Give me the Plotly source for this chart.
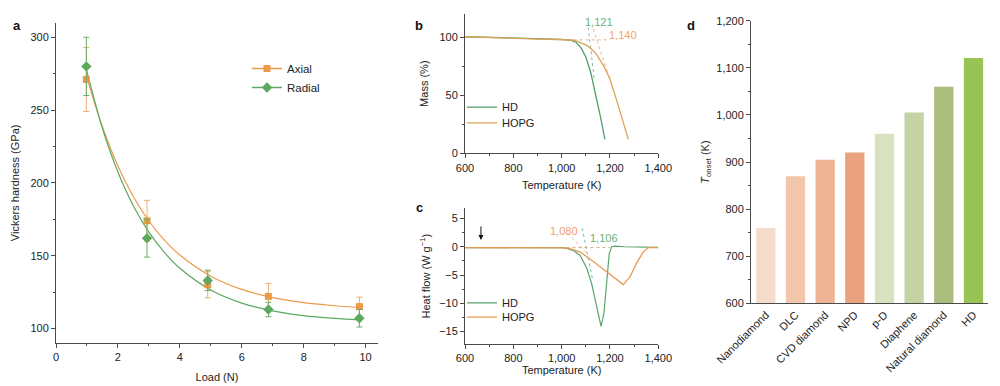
import plotly.graph_objects as go

FONT = "Liberation Sans, Arial, sans-serif"
ORANGE = "#EC9A48"
GREEN = "#5BA85E"
AX_COL = "#4a4a4a"

# ---------------- Panel a: Vickers hardness ----------------
load = [0.98, 2.94, 4.9, 6.86, 9.8]
axial = [271, 174, 130, 122, 115]
axial_err = [22, 14, 9, 9, 6.5]
radial = [280, 162, 133, 113, 107]
radial_err = [20, 13, 7, 5, 6]
fit_load = [0.98, 1.5, 2, 2.5, 3, 3.5, 4, 5, 6, 7, 8, 9, 9.8]
axial_fit = [273.7, 238.4, 211.6, 190.5, 173.8, 160.7, 150.4, 135.9, 126.8, 121.2, 117.7, 115.6, 114.4]
radial_fit = [278.1, 237.5, 207.4, 184.1, 166.1, 152.2, 141.3, 126.4, 117.4, 112.1, 108.8, 106.9, 105.9]

# ---------------- Panel b: TGA ----------------
tb_hd = [600, 700, 800, 900, 1000, 1040, 1060, 1080, 1100, 1120, 1140, 1160, 1179]
mass_hd = [100.4, 99.8, 99.2, 98.7, 98.2, 97.2, 95.5, 91.0, 83.0, 70.0, 52.0, 32.0, 12.0]
tb_hopg = [600, 700, 800, 900, 1000, 1040, 1060, 1080, 1100, 1117, 1140, 1172, 1200, 1227, 1250, 1276]
mass_hopg = [100.4, 99.8, 99.2, 98.7, 98.2, 97.6, 96.8, 95.4, 93.4, 91.0, 86.5, 76.0, 64.0, 46.0, 30.0, 12.0]
tb_base = [1000, 1200]
mass_base = [97.7, 97.7]
tb_tan_hd = [1110, 1135]
mass_tan_hd = [108.5, 64.0]
tb_tan_hopg = [1131, 1200]
mass_tan_hopg = [107.0, 63.0]
onset_b = ["1,121", "1,140"]

# ---------------- Panel c: DSC ----------------
tc_hd = [600, 700, 800, 900, 1000, 1021, 1050, 1076, 1104, 1124, 1138, 1152, 1163, 1175, 1186, 1197, 1207, 1221, 1260, 1300, 1350, 1400]
hf_hd = [-0.15, -0.15, -0.15, -0.15, -0.15, -0.3, -0.7, -1.5, -3.8, -6.5, -9.4, -12.3, -14.1, -11.8, -5.9, -1.2, 0.0, 0.1, 0.0, -0.05, -0.1, -0.1]
tc_hopg = [600, 800, 1000, 1030, 1076, 1131, 1186, 1228, 1255, 1283, 1310, 1338, 1359, 1400]
hf_hopg = [-0.15, -0.15, -0.2, -0.3, -0.9, -2.6, -4.4, -5.9, -6.7, -5.3, -2.9, -0.9, -0.15, -0.15]
tc_base = [1020, 1200]
hf_base = [-0.15, -0.15]
tc_tan_hd = [1085, 1128]
hf_tan_hd = [3.3, -5.8]
tc_tan_hopg = [1025, 1110]
hf_tan_hopg = [2.4, -1.4]
onset_c = ["1,080", "1,106"]

# ---------------- Panel d: T onset ----------------
materials = ["Nanodiamond", "DLC", "CVD diamond", "NPD", "p-D", "Diaphene", "Natural diamond", "HD"]
t_onset = [760, 870, 905, 920, 960, 1005, 1060, 1121]
bar_colors = ["#F5DCCA", "#F2C6AB", "#EDB496", "#EAA17E", "#D8E2BF", "#C5D2A3", "#AABD7E", "#98C456"]

# page offset (body margin) compensation
W, H, OFF = 992, 378, 8


def fx(px):
    return (px - OFF) / W


def fy(py):
    return 1 - (py - OFF) / H


fig = go.Figure()

# panel a
fig.add_trace(go.Scatter(x=fit_load, y=axial_fit, mode="lines", line=dict(color=ORANGE, width=1.2, shape="spline"),
                         showlegend=False, xaxis="x", yaxis="y"))
fig.add_trace(go.Scatter(x=fit_load, y=radial_fit, mode="lines", line=dict(color=GREEN, width=1.2, shape="spline"),
                         showlegend=False, xaxis="x", yaxis="y"))
fig.add_trace(go.Scatter(x=load, y=axial, mode="markers",
                         marker=dict(symbol="square", size=7, color=ORANGE),
                         error_y=dict(type="data", array=axial_err, color="#E8B070", thickness=1, width=3),
                         showlegend=False, xaxis="x", yaxis="y"))
fig.add_trace(go.Scatter(x=load, y=radial, mode="markers",
                         marker=dict(symbol="diamond", size=8, color=GREEN),
                         error_y=dict(type="data", array=radial_err, color="#6AAE6A", thickness=1, width=3),
                         showlegend=False, xaxis="x", yaxis="y"))
fig.add_trace(go.Scatter(x=[None], y=[None], mode="lines+markers", name="Axial",
                         line=dict(color=ORANGE, width=1.5),
                         marker=dict(symbol="square", size=7, color=ORANGE),
                         legend="legend", xaxis="x", yaxis="y"))
fig.add_trace(go.Scatter(x=[None], y=[None], mode="lines+markers", name="Radial",
                         line=dict(color=GREEN, width=1.5),
                         marker=dict(symbol="diamond", size=8, color=GREEN),
                         legend="legend", xaxis="x", yaxis="y"))

# panel b
fig.add_trace(go.Scatter(x=tb_base, y=mass_base, mode="lines", line=dict(color="#C9A27A", width=0.8, dash="dot"),
                         showlegend=False, xaxis="x2", yaxis="y2"))
fig.add_trace(go.Scatter(x=tb_tan_hd, y=mass_tan_hd, mode="lines", line=dict(color="#6FA98A", width=0.8, dash="dot"),
                         showlegend=False, xaxis="x2", yaxis="y2"))
fig.add_trace(go.Scatter(x=tb_tan_hopg, y=mass_tan_hopg, mode="lines", line=dict(color="#E2A46E", width=0.8, dash="dot"),
                         showlegend=False, xaxis="x2", yaxis="y2"))
fig.add_trace(go.Scatter(x=tb_hd, y=mass_hd, mode="lines", name="HD", line=dict(color="#4E9F6A", width=1.3),
                         legend="legend2", xaxis="x2", yaxis="y2"))
fig.add_trace(go.Scatter(x=tb_hopg, y=mass_hopg, mode="lines", name="HOPG", line=dict(color="#DCA257", width=1.3),
                         legend="legend4", xaxis="x2", yaxis="y2"))

# panel c
fig.add_trace(go.Scatter(x=tc_base, y=hf_base, mode="lines", line=dict(color="#D9A77A", width=1, dash="dot"),
                         showlegend=False, xaxis="x3", yaxis="y3"))
fig.add_trace(go.Scatter(x=tc_tan_hd, y=hf_tan_hd, mode="lines", line=dict(color="#5FA89A", width=0.8, dash="dot"),
                         showlegend=False, xaxis="x3", yaxis="y3"))
fig.add_trace(go.Scatter(x=tc_tan_hopg, y=hf_tan_hopg, mode="lines", line=dict(color="#E8A27A", width=0.8, dash="dot"),
                         showlegend=False, xaxis="x3", yaxis="y3"))
fig.add_trace(go.Scatter(x=tc_hd, y=hf_hd, mode="lines", name="HD", line=dict(color="#5AA56C", width=1.2),
                         legend="legend3", xaxis="x3", yaxis="y3"))
fig.add_trace(go.Scatter(x=tc_hopg, y=hf_hopg, mode="lines", name="HOPG", line=dict(color="#E89A52", width=1.3),
                         legend="legend5", xaxis="x3", yaxis="y3"))

# panel d
fig.add_trace(go.Bar(x=materials, y=t_onset, marker=dict(color=bar_colors, line=dict(width=0)),
                     showlegend=False, xaxis="x4", yaxis="y4"))

tickfont = dict(family=FONT, size=11, color="#222")
titlefont = dict(family=FONT, size=11, color="#222")


def axis(domain, rng, dtick, anchor, minor_dtick=None, title=None, fmt=None, standoff=None):
    d = dict(domain=domain, range=rng, dtick=dtick, tick0=0, anchor=anchor, showgrid=False, zeroline=False,
             showline=True, linecolor=AX_COL, linewidth=1, ticks="outside", ticklen=4, tickcolor=AX_COL,
             tickfont=tickfont, automargin=False)
    if minor_dtick is not None:
        d["minor"] = dict(dtick=minor_dtick, ticks="outside", ticklen=2, tickcolor=AX_COL, showgrid=False)
    if title is not None:
        d["title"] = dict(text=title, font=titlefont)
        if standoff is not None:
            d["title"]["standoff"] = standoff
    if fmt is not None:
        d["tickformat"] = fmt
    return d


def small_legend(px, py, size=11):
    return dict(x=fx(px), y=fy(py), xanchor="left", yanchor="top", bgcolor="rgba(0,0,0,0)",
                font=dict(family=FONT, size=size, color="#222"), itemwidth=30, tracegroupgap=0)


layout = dict(
    width=W, height=H, margin=dict(l=0, r=0, t=0, b=0, autoexpand=False),
    paper_bgcolor="white", plot_bgcolor="white", font=dict(family=FONT, size=11, color="#222"),
    xaxis=axis([fx(56), fx(378)], [0, 10.4], 2, "y", 1, "Load (N)", standoff=11),
    yaxis=axis([fy(343), fy(22.7)], [90, 310], 50, "x", 25, "Vickers hardness (GPa)", standoff=8),
    xaxis2=axis([fx(465), fx(658.3)], [600, 1400], 200, "y2", 100, "Temperature (K)", ",", standoff=8),
    yaxis2=axis([fy(153.3), fy(14)], [0, 120], 50, "x2", 25, "Mass (%)", standoff=8),
    xaxis3=axis([fx(465), fx(658.3)], [600, 1400], 200, "y3", 100, "Temperature (K)", ",", standoff=0),
    yaxis3=axis([fy(344), fy(208.3)], [-17.2, 6.8], 5, "x3", 2.5, "Heat flow (W g<sup>−1</sup>)", standoff=6),
    xaxis4=dict(domain=[fx(751), fx(988.3)], anchor="y4", showline=True, linecolor=AX_COL, linewidth=1,
                ticks="", tickangle=-45, tickfont=tickfont, showgrid=False, automargin=False),
    yaxis4=axis([fy(303.3), fy(20.7)], [600, 1200], 100, "x4", 50, "<i>T</i><sub>onset</sub> (K)", ",", standoff=4),
    bargap=0.35,
    legend=small_legend(247, 54, 11.5),
    legend2=small_legend(462, 92.7),
    legend4=small_legend(462, 108.3),
    legend3=small_legend(462, 288.3),
    legend5=small_legend(462, 302.7),
)
fig.update_layout(**layout)

# panel letters
for letter, px, py in [("a", 11, 16), ("b", 419, 16), ("c", 419, 207), ("d", 697, 16)]:
    fig.add_annotation(text="<b>%s</b>" % letter, x=fx(px), y=fy(py), xref="paper", yref="paper",
                       showarrow=False, font=dict(family=FONT, size=13, color="#111"))

# onset labels
fig.add_annotation(text=onset_b[0], x=1155, y=113, xref="x2", yref="y2", showarrow=False,
                   font=dict(family=FONT, size=11, color="#6DB07A"))
fig.add_annotation(text=onset_b[1], x=1255, y=101.5, xref="x2", yref="y2", showarrow=False,
                   font=dict(family=FONT, size=11, color="#EFA66B"))
fig.add_annotation(text=onset_c[0], x=1011, y=2.8, xref="x3", yref="y3", showarrow=False,
                   font=dict(family=FONT, size=11, color="#EFA070"))
fig.add_annotation(text=onset_c[1], x=1176, y=1.5, xref="x3", yref="y3", showarrow=False,
                   font=dict(family=FONT, size=11, color="#6DB07A"))
# arrow in panel c
fig.add_annotation(x=666, y=1.2, xref="x3", yref="y3", ax=0, ay=-15, showarrow=True, arrowhead=2,
                   arrowsize=1, arrowwidth=1, arrowcolor="#111", text="")

fig.write_html("out.html")
